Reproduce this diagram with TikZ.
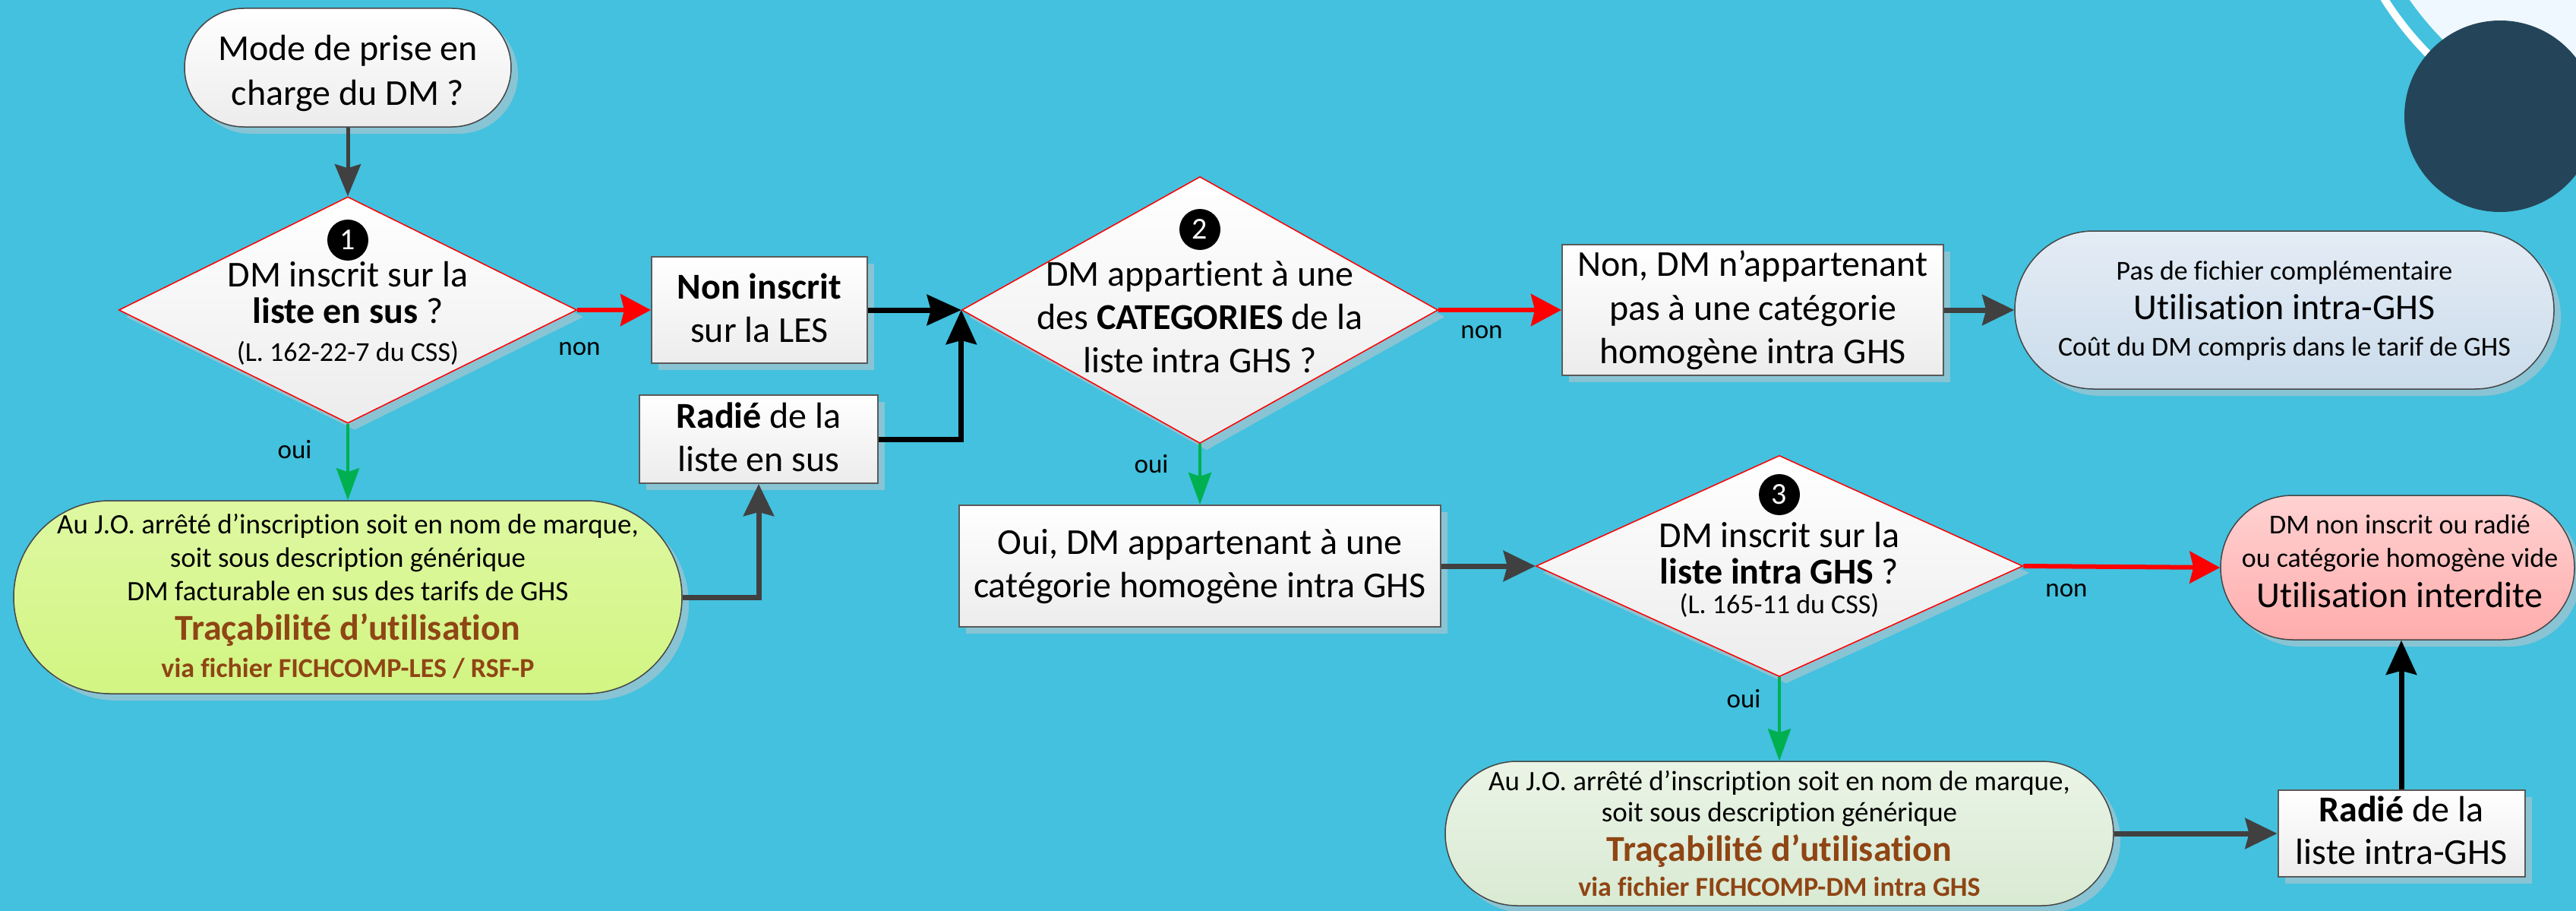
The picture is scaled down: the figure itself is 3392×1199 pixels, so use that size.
\documentclass[tikz,border=0pt]{standalone}
\usepackage{fontspec}
\setmainfont{Carlito}[Ligatures=NoCommon]
\usetikzlibrary{shapes.geometric,arrows.meta,shadows}

\definecolor{bgc}{RGB}{67,193,222}
\definecolor{shadowc}{RGB}{136,196,212}
\definecolor{navy}{RGB}{36,69,89}
\definecolor{paleblue}{RGB}{240,248,255}
\definecolor{boxline}{RGB}{90,90,90}
\definecolor{termline}{RGB}{70,70,70}
\definecolor{greyfill}{RGB}{236,236,236}
\definecolor{darkarrow}{RGB}{64,64,64}
\definecolor{okgreen}{RGB}{0,176,80}
\definecolor{nored}{RGB}{255,0,0}
\definecolor{brownt}{RGB}{143,69,20}
\definecolor{limetop}{RGB}{222,248,162}
\definecolor{limebot}{RGB}{210,245,130}
\definecolor{sagetop}{RGB}{234,244,230}
\definecolor{sagebot}{RGB}{217,234,211}
\definecolor{skytop}{RGB}{228,236,245}
\definecolor{skybot}{RGB}{203,220,235}
\definecolor{rosetop}{RGB}{255,210,210}
\definecolor{rosebot}{RGB}{255,172,172}

\begin{document}
\begin{tikzpicture}[x=1pt,y=-1pt,
  shad/.style={drop shadow={shadow xshift=9pt,shadow yshift=-9pt,fill=shadowc,opacity=1}},
  stepbox/.style={rectangle,draw=boxline,line width=2pt,top color=white,bottom color=greyfill,shad,inner sep=0pt},
  term/.style={rectangle,draw=termline,line width=1.5pt,shad,inner sep=0pt},
  decision/.style={diamond,draw=nored,line width=1.5pt,top color=white,bottom color=greyfill,shad,inner sep=0pt},
  numdot/.style={circle,fill=black,text=white,minimum size=54pt,inner sep=0pt,font=\fontsize{40}{40}\selectfont},
  tL/.style={anchor=base,inner sep=0pt,font=\fontsize{48}{57}\selectfont},
  tS/.style={anchor=base,inner sep=0pt,font=\fontsize{36}{43}\selectfont},
  tM/.style={anchor=base,inner sep=0pt,font=\fontsize{37}{44}\selectfont},
  tBL/.style={anchor=base,inner sep=0pt,text=brownt,font=\fontsize{48}{57}\selectfont\bfseries},
  tBS/.style={anchor=base,inner sep=0pt,text=brownt,font=\fontsize{36}{43}\selectfont\bfseries},
  lbl/.style={anchor=base,inner sep=0pt,font=\fontsize{35}{42}\selectfont},
  arrred/.style={draw=nored,line width=6pt,-{Stealth[length=40pt,width=42pt,inset=5pt]}},
  arrblack/.style={draw=black,line width=7pt,-{Stealth[length=45pt,width=40pt,inset=5pt]}},
  arrdark/.style={draw=darkarrow,line width=7pt,-{Stealth[length=42pt,width=40pt,inset=5pt]}},
  arrgreen/.style={draw=okgreen,line width=4pt,-{Stealth[length=42pt,width=30pt,inset=5pt]}}
]
% page and background
\useasboundingbox (0,0) rectangle (3392,1199);
\fill[bgc] (0,0) rectangle (3392,1199);
\begin{scope}
  \clip (0,0) rectangle (3392,1199);
  \draw[white,line width=10pt] (3501,-229) circle[radius=427];
  \fill[paleblue] (3501,-229) circle[radius=400];
  \fill[navy] (3292,153) circle[radius=126];
\end{scope}

% ---- shapes ----
\node[term,top color=white,bottom color=greyfill,minimum width=430pt,minimum height=156pt,rounded corners=78pt] (start) at (458,89) {};
\node[decision,minimum width=603pt,minimum height=298pt] (d1) at (458,408) {};
\node[stepbox,minimum width=284pt,minimum height=140pt] (nins) at (1000,408) {};
\node[stepbox,minimum width=314pt,minimum height=116pt] (rad1) at (999,578) {};
\node[term,top color=limetop,bottom color=limebot,minimum width=880pt,minimum height=254pt,rounded corners=127pt] (g1) at (458,786) {};
\node[decision,minimum width=627pt,minimum height=351pt] (d2) at (1580,408) {};
\node[stepbox,minimum width=502pt,minimum height=172pt] (napp) at (2308,408) {};
\node[term,top color=skytop,bottom color=skybot,minimum width=710pt,minimum height=208pt,rounded corners=104pt] (tblue) at (3008,408) {};
\node[stepbox,minimum width=634pt,minimum height=160pt] (boui) at (1580,745) {};
\node[decision,minimum width=641pt,minimum height=291pt] (d3) at (2343,745) {};
\node[term,top color=rosetop,bottom color=rosebot,minimum width=466pt,minimum height=190pt,rounded corners=95pt] (tred) at (3157,747) {};
\node[term,top color=sagetop,bottom color=sagebot,minimum width=880pt,minimum height=190pt,rounded corners=95pt] (g2) at (2343,1097) {};
\node[stepbox,minimum width=325pt,minimum height=114pt] (rad2) at (3162,1097) {};

% ---- texts ----
\node[tL] (start1) at (458,79.5) {Mode de prise en};
\node[tL] (start2) at (458,138.5) {charge du DM ?};

\node[numdot] (n1) at (458,316) {1};
\node[tL] (d1a) at (458,377.5) {DM inscrit sur la};
\node[tL] (d1b) at (458,425.5) {\textbf{liste en sus} ?};
\node[tS] (d1c) at (458,475) {(L. 162-22-7 du CSS)};

\node[tL] (nins1) at (1000,393.5) {\textbf{Non inscrit}};
\node[tL] (nins2) at (1000,450.5) {sur la LES};

\node[tL] (rad1a) at (999,563.5) {\textbf{Radié} de la};
\node[tL] (rad1b) at (999,620.5) {liste en sus};

\node[tM] (g1a) at (458,702) {Au J.O. arrêté d’inscription soit en nom de marque,};
\node[tM] (g1b) at (458,746) {soit sous description générique};
\node[tM] (g1c) at (458,790) {DM facturable en sus des tarifs de GHS};
\node[tBL] (g1d) at (458,842.5) {Traçabilité d’utilisation};
\node[tBS] (g1e) at (458,891) {via fichier FICHCOMP-LES / RSF-P};

\node[numdot] (n2) at (1580,302) {2};
\node[tL] (d2a) at (1580,376.5) {DM appartient à une};
\node[tL] (d2b) at (1580,433.5) {des \textbf{CATEGORIES} de la};
\node[tL] (d2c) at (1580,490.5) {liste intra GHS ?};

\node[tL] (napp1) at (2308,363.5) {Non, DM n’appartenant};
\node[tL] (napp2) at (2308,421.5) {pas à une catégorie};
\node[tL] (napp3) at (2308,478.5) {homogène intra GHS};

\node[tS] (tb1) at (3008,368) {Pas de fichier complémentaire};
\node[tL] (tb2) at (3008,420.5) {Utilisation intra-GHS};
\node[tS] (tb3) at (3008,468) {Coût du DM compris dans le tarif de GHS};

\node[tL] (boui1) at (1580,729.5) {Oui, DM appartenant à une};
\node[tL] (boui2) at (1580,786.5) {catégorie homogène intra GHS};

\node[numdot] (n3) at (2343,651) {3};
\node[tL] (d3a) at (2343,720.5) {DM inscrit sur la};
\node[tL] (d3b) at (2343,768.5) {\textbf{liste intra GHS} ?};
\node[tS] (d3c) at (2343,807) {(L. 165-11 du CSS)};

\node[tS] (tr1) at (3160,702) {DM non inscrit ou radié};
\node[tS] (tr2) at (3160,746) {ou catégorie homogène vide};
\node[tL] (tr3) at (3160,799.5) {Utilisation interdite};

\node[tM] (g2a) at (2343,1040) {Au J.O. arrêté d’inscription soit en nom de marque,};
\node[tM] (g2b) at (2343,1081) {soit sous description générique};
\node[tBL] (g2c) at (2343,1133.5) {Traçabilité d’utilisation};
\node[tBS] (g2d) at (2343,1179) {via fichier FICHCOMP-DM intra GHS};

\node[tL] (rad2a) at (3162,1081.5) {\textbf{Radié} de la};
\node[tL] (rad2b) at (3162,1137.5) {liste intra-GHS};

% ---- branch labels ----
\node[lbl] (non1) at (763,467) {non};
\node[lbl] (oui1) at (388,603) {oui};
\node[lbl] (non2) at (1951,445) {non};
\node[lbl] (oui2) at (1516,622) {oui};
\node[lbl] (non3) at (2721,785) {non};
\node[lbl] (oui3) at (2296,931) {oui};

% ---- connectors ----
\draw[draw=darkarrow,line width=5pt,-{Stealth[length=42pt,width=34pt,inset=5pt]}] (start.south) -- (d1.north);
\draw[arrred] (d1.east) -- (nins.west);
\draw[arrblack] (nins.east) -- (d2.west);
\draw[arrblack] (rad1.east) -| (d2.west);
\draw[arrgreen] (d1.south) -- (g1.north);
\draw[arrdark] (g1.east) -| (rad1.south);
\draw[arrred] (d2.east) -- (napp.west);
\draw[arrdark] (napp.east) -- (tblue.west);
\draw[arrgreen] (d2.south) -- (boui.north);
\draw[arrdark] (boui.east) -- (d3.west);
\draw[arrred] (d3.east) -- (tred.west);
\draw[arrgreen] (d3.south) -- (g2.north);
\draw[arrdark] (g2.east) -- (rad2.west);
\draw[arrblack] (rad2.north) -- (rad2.north |- tred.south);
\end{tikzpicture}
\end{document}
